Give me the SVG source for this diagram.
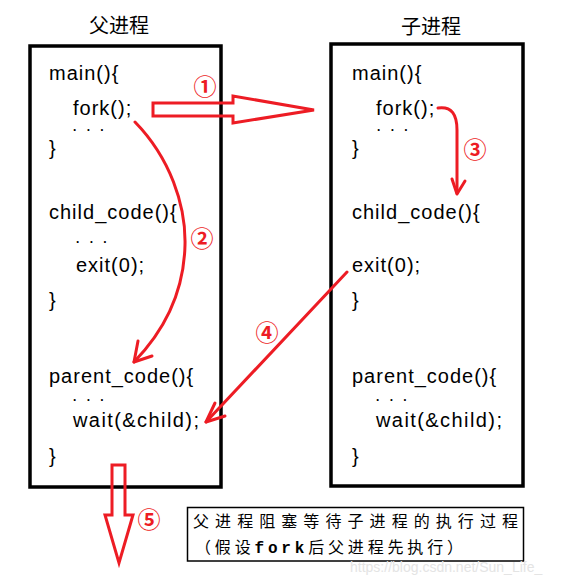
<svg xmlns="http://www.w3.org/2000/svg" width="574" height="579" viewBox="0 0 574 579">
<style>
.box{fill:#fff;stroke:#000;stroke-width:3.5}
.code{font-family:"Liberation Sans",Arial,sans-serif;font-size:20px;letter-spacing:1px;fill:#000}
.dots{font-family:"Liberation Sans",Arial,sans-serif;font-size:12px;font-weight:bold;letter-spacing:3.5px;fill:#000}
.title{font-family:"Noto Sans CJK SC",sans-serif;font-size:20px;fill:#000;text-anchor:middle}
.red{fill:none;stroke:#ed1c24;stroke-width:3;stroke-linecap:round;stroke-linejoin:round}
.hollow{fill:none;stroke:#ed1c24;stroke-width:3;stroke-linejoin:miter}
.num{font-family:"Noto Sans CJK SC",sans-serif;font-size:23px;font-weight:bold;fill:#ed1c24;text-anchor:middle}
.cap{font-family:"Noto Sans CJK SC",sans-serif;font-size:16px;fill:#000}
</style>
<rect width="574" height="579" fill="#fff"/>

<g id="parent">
<text class="title" x="119" y="33">父进程</text>
<rect class="box" x="30" y="46" width="191" height="441"/>
<text class="code" x="49" y="80">main(){</text>
<text class="code" x="73" y="115">fork();</text>
<text class="dots" x="73" y="131">. . .</text>
<text class="code" x="49" y="155">}</text>
<text class="code" x="49" y="219">child_code(){</text>
<text class="dots" x="76" y="243">. . .</text>
<text class="code" x="76" y="272">exit(0);</text>
<text class="code" x="49" y="307">}</text>
<text class="code" x="49" y="383">parent_code(){</text>
<text class="dots" x="73" y="401">. . .</text>
<text class="code" x="73" y="427" textLength="127" lengthAdjust="spacing">wait(&amp;child);</text>
<text class="code" x="49" y="463">}</text>
</g>

<g id="child">
<text class="title" x="431" y="34">子进程</text>
<rect class="box" x="331" y="44" width="192" height="442"/>
<text class="code" x="352" y="80">main(){</text>
<text class="code" x="376" y="115">fork();</text>
<text class="dots" x="377" y="131">. . .</text>
<text class="code" x="352" y="155">}</text>
<text class="code" x="352" y="219">child_code(){</text>
<text class="code" x="352" y="272">exit(0);</text>
<text class="code" x="352" y="307">}</text>
<text class="code" x="352" y="383">parent_code(){</text>
<text class="dots" x="376" y="401">. . .</text>
<text class="code" x="376" y="427" textLength="127" lengthAdjust="spacing">wait(&amp;child);</text>
<text class="code" x="352" y="463">}</text>
</g>

<g id="caption">
<rect x="187.5" y="507.5" width="336" height="53.5" fill="none" stroke="#000" stroke-width="1.5"/>
<text class="cap" x="193" y="527" textLength="325" lengthAdjust="spacing">父进程阻塞等待子进程的执行过程</text>
<text class="cap" x="195" y="553" textLength="268" lengthAdjust="spacing">（假设<tspan font-family="Liberation Mono,monospace" font-weight="bold">fork</tspan>后父进程先执行）</text>
</g>

<g id="connectors">
<polygon class="hollow" points="153,103 233,103 233,96 314,110 233,123 233,116 153,116"/>
<text class="num" x="205" y="95">①</text>

<path class="red" d="M135,122 C170,158 186,205 185,245 C184,290 165,330 134,362"/>
<path class="red" d="M138,341 L134,362 L152,356"/>
<text class="num" x="202" y="247">②</text>

<path class="red" d="M438,108 C452,106 457,115 457,130 L457,193"/>
<path class="red" d="M452,179 L457,194 L465,181"/>
<text class="num" x="475" y="158">③</text>

<path class="red" d="M347,272 L206,422"/>
<path class="red" d="M215,403 L206,422 L225,416"/>
<text class="num" x="267" y="341">④</text>

<polygon class="hollow" points="112,465 125,465 125,515 133,515 119,563 105,515 112,515"/>
<text class="num" x="149" y="528">⑤</text>
</g>

<text x="350" y="572" font-family="Liberation Sans,Arial,sans-serif" font-size="14" fill="#e4e4e4">https://blog.csdn.net/Sun_Life_</text>
</svg>
